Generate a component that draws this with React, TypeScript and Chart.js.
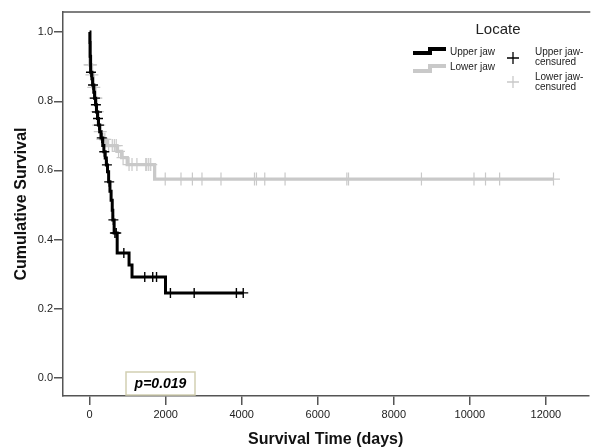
import React, { useEffect, useRef } from "react";
import { Chart, registerables } from "chart.js";
Chart.register(...registerables);

// ---- Data ----
const xTickValues = [0, 2000, 4000, 6000, 8000, 10000, 12000];
const yTickValues = [0, 0.2, 0.4, 0.6, 0.8, 1.0];

// Upper jaw (black) Kaplan-Meier steps: time (days) -> survival after event
const upperTimes = [0, 8, 15, 26, 60, 78, 110, 130, 156, 181, 207, 233, 265, 300, 345, 375, 410, 440, 470, 500, 535, 565, 595, 610, 645, 725, 1037, 1115, 1996, 4040];
const upperSurv = [1.0, 0.97, 0.93, 0.884, 0.865, 0.847, 0.826, 0.809, 0.79, 0.769, 0.75, 0.731, 0.712, 0.694, 0.672, 0.654, 0.636, 0.616, 0.596, 0.567, 0.54, 0.514, 0.485, 0.457, 0.419, 0.361, 0.327, 0.292, 0.246, 0.246];
const upperCensored = [35, 90, 140, 165, 195, 220, 245, 320, 385, 455, 515, 625, 665, 700, 900, 1450, 1660, 1760, 2125, 2750, 3860, 4040];

// Lower jaw (grey)
const lowerTimes = [0, 5, 50, 95, 140, 180, 225, 265, 310, 440, 720, 840, 990, 1710, 12200];
const lowerSurv = [1.0, 0.905, 0.876, 0.84, 0.809, 0.77, 0.731, 0.712, 0.69, 0.672, 0.655, 0.637, 0.617, 0.575, 0.575];
const lowerCensored = [10, 25, 60, 110, 150, 165, 200, 240, 280, 350, 400, 500, 596, 650, 700, 760, 880, 1037, 1115, 1244, 1477, 1503, 1555, 1607, 1988, 2403, 2703, 2955, 3455, 4336, 4388, 4606, 5140, 6765, 6809, 8727, 10109, 10412, 10783, 12200];

const UPPER_COLOR = "#000000";
const LOWER_COLOR = "#c9c9c9";

function survivalAt(times: number[], surv: number[], t: number): number {
  let s = surv[0];
  for (let i = 0; i < times.length; i++) {
    if (times[i] <= t) s = surv[i];
  }
  return s;
}

function stepPoints(times: number[], surv: number[]) {
  return times.map((t, i) => ({ x: t, y: surv[i] }));
}

function censorPoints(cens: number[], times: number[], surv: number[]) {
  return cens.map((t) => ({ x: t, y: survivalAt(times, surv, t) }));
}

const overlayPlugin = {
  id: "overlay",
  afterDraw(chart: any) {
    const { ctx, chartArea } = chart;
    ctx.save();
    // top frame
    ctx.strokeStyle = "#555";
    ctx.lineWidth = 1.5;
    ctx.beginPath();
    ctx.moveTo(chartArea.left, chartArea.top);
    ctx.lineTo(chartArea.right + 2, chartArea.top);
    ctx.stroke();

    // Legend
    const font = "'Liberation Sans', Arial, sans-serif";
    ctx.fillStyle = "#222";
    ctx.textAlign = "center";
    ctx.textBaseline = "middle";
    ctx.font = `15px ${font}`;
    ctx.fillText("Locate", 498, 30);

    ctx.lineWidth = 4;
    ctx.lineJoin = "miter";
    ctx.strokeStyle = UPPER_COLOR;
    ctx.beginPath();
    ctx.moveTo(413, 53);
    ctx.lineTo(430, 53);
    ctx.lineTo(430, 49);
    ctx.lineTo(446, 49);
    ctx.stroke();
    ctx.strokeStyle = LOWER_COLOR;
    ctx.beginPath();
    ctx.moveTo(413, 71);
    ctx.lineTo(430, 71);
    ctx.lineTo(430, 66);
    ctx.lineTo(446, 66);
    ctx.stroke();

    ctx.font = `10px ${font}`;
    ctx.textAlign = "left";
    ctx.fillText("Upper jaw", 450, 52);
    ctx.fillText("Lower jaw", 450, 67);
    ctx.fillText("Upper jaw-", 535, 52);
    ctx.fillText("censured", 535, 62);
    ctx.fillText("Lower jaw-", 535, 77);
    ctx.fillText("censured", 535, 87);

    ctx.lineWidth = 1.3;
    ctx.strokeStyle = UPPER_COLOR;
    ctx.beginPath();
    ctx.moveTo(507, 58); ctx.lineTo(519, 58);
    ctx.moveTo(513, 52); ctx.lineTo(513, 64);
    ctx.stroke();
    ctx.strokeStyle = LOWER_COLOR;
    ctx.beginPath();
    ctx.moveTo(507, 82); ctx.lineTo(519, 82);
    ctx.moveTo(513, 76); ctx.lineTo(513, 88);
    ctx.stroke();

    // p-value box
    ctx.fillStyle = "#ffffff";
    ctx.fillRect(126, 372, 69, 23);
    ctx.strokeStyle = "#d2cfb2";
    ctx.lineWidth = 1.5;
    ctx.strokeRect(126, 372, 69, 23);
    ctx.fillStyle = "#000";
    ctx.font = `italic bold 14px ${font}`;
    ctx.textAlign = "center";
    ctx.fillText("p=0.019", 160.5, 384);
    ctx.restore();
  },
};

export default function App() {
  const ref = useRef<HTMLCanvasElement | null>(null);

  useEffect(() => {
    document.body.style.margin = "0";
    const canvas = ref.current;
    if (!canvas) return;
    const font = "'Liberation Sans', Arial, sans-serif";
    const chart = new Chart(canvas, {
      type: "line",
      data: {
        datasets: [
          {
            label: "Upper jaw-censured",
            data: censorPoints(upperCensored, upperTimes, upperSurv),
            showLine: false,
            pointStyle: "cross",
            pointRadius: 5,
            pointBorderColor: UPPER_COLOR,
            pointBorderWidth: 1.4,
            borderColor: UPPER_COLOR,
            order: 0,
          },
          {
            label: "Upper jaw",
            data: stepPoints(upperTimes, upperSurv),
            stepped: "before",
            borderColor: UPPER_COLOR,
            borderWidth: 3,
            pointRadius: 0,
            fill: false,
            order: 1,
          },
          {
            label: "Lower jaw-censured",
            data: censorPoints(lowerCensored, lowerTimes, lowerSurv),
            showLine: false,
            pointStyle: "cross",
            pointRadius: 6.5,
            pointBorderColor: LOWER_COLOR,
            pointBorderWidth: 1.2,
            borderColor: LOWER_COLOR,
            order: 2,
          },
          {
            label: "Lower jaw",
            data: stepPoints(lowerTimes, lowerSurv),
            stepped: "before",
            borderColor: LOWER_COLOR,
            borderWidth: 3.3,
            pointRadius: 0,
            fill: false,
            order: 3,
          },
        ],
      },
      options: {
        responsive: false,
        animation: false,
        layout: { padding: { top: 12, right: 0, left: 0, bottom: 0 } },
        plugins: {
          legend: { display: false },
          tooltip: { enabled: false },
        },
        scales: {
          x: {
            type: "linear",
            min: -700,
            max: 13115,
            afterFit: (s: any) => { s.height = 52; },
            afterBuildTicks: (s: any) => { s.ticks = xTickValues.map((v) => ({ value: v })); },
            grid: { drawOnChartArea: false, drawTicks: true, tickLength: 9, color: "#555", lineWidth: 1.5 },
            border: { display: true, color: "#555", width: 1.5 },
            ticks: { color: "#222", font: { family: font, size: 11 }, padding: 3, maxRotation: 0, callback: (v: any) => String(v) },
            title: { display: true, text: "Survival Time (days)", color: "#111", font: { family: font, size: 16, weight: "bold", lineHeight: 1 }, padding: { top: 0, bottom: 0 } },
          },
          y: {
            type: "linear",
            min: -0.052,
            max: 1.058,
            afterFit: (s: any) => { s.width = 63; },
            afterBuildTicks: (s: any) => { s.ticks = yTickValues.map((v) => ({ value: v })); },
            grid: { drawOnChartArea: false, drawTicks: true, tickLength: 9, color: "#555", lineWidth: 1.5 },
            border: { display: true, color: "#555", width: 1.5 },
            ticks: { color: "#222", font: { family: font, size: 11 }, padding: 1, callback: (v: any) => Number(v).toFixed(1) },
            title: { display: true, text: "Cumulative Survival", color: "#111", font: { family: font, size: 16, weight: "bold", lineHeight: 1 }, padding: { top: 14, bottom: 0 } },
          },
        },
      },
      plugins: [overlayPlugin],
    } as any);
    return () => chart.destroy();
  }, []);

  return (
    <div style={{ position: "fixed", left: 0, top: 0, width: 596, height: 448, background: "#fff" }}>
      <canvas ref={ref} width={596} height={448} />
    </div>
  );
}
